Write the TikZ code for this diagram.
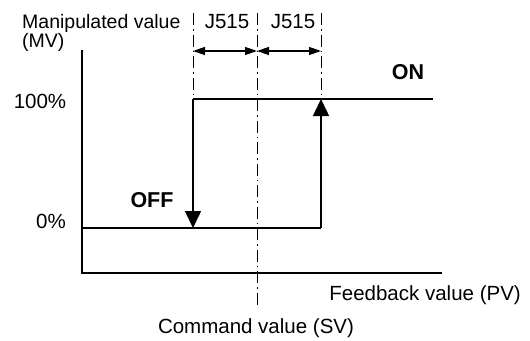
\documentclass[tikz,border=0pt]{standalone}
\usepackage{fontspec}
\setmainfont{Liberation Sans}
\usetikzlibrary{arrows.meta,positioning}

\begin{document}
\begin{tikzpicture}[
  x=1pt, y=-1pt,
  txt/.style={inner sep=0pt, font=\fontsize{20.5}{24}\selectfont},
  boldtxt/.style={inner sep=0pt, font=\fontsize{21.5}{24}\selectfont\bfseries},
  axis/.style={line width=1.3pt},
  curve/.style={line width=1.5pt},
  arrow/.style={line width=1.5pt, -{Triangle[length=17pt, width=16pt]}},
  dimarrow/.style={line width=1.3pt, {Triangle[length=12pt, width=8pt]}-{Triangle[length=12pt, width=8pt]}},
  guide/.style={line width=0.8pt, dash pattern=on 12pt off 4pt on 1.5pt off 4pt}
]
\useasboundingbox (0,0) rectangle (530,340);

% axes
\coordinate (origin) at (82,273);
\coordinate (ytop) at (82,50);
\coordinate (xend) at (442,273);
\draw[axis] (ytop) -- (origin) -- (xend);

% switching points
\coordinate (offtop) at (193,99);
\coordinate (offbot) at (193,228);
\coordinate (ontop) at (321,99);
\coordinate (onbot) at (321,228);
\coordinate (lowstart) at (82,228);
\coordinate (highend) at (433,99);

% guide lines
\coordinate (svtop) at (257,13);
\coordinate (svbot) at (257,305);
\coordinate (offguide) at (193,13);
\coordinate (onguide) at (321,13);
\draw[guide] (svtop) -- (svbot);
\draw[guide] (offguide) -- (offtop);
\draw[guide] (onguide) -- (ontop);

% output characteristic
\draw[curve] (lowstart) -- (onbot);
\draw[curve] (offtop) -- (highend);
\draw[arrow] (offtop) -- (offbot);
\draw[arrow] (onbot) -- (ontop);

% hysteresis widths
\coordinate (dimleft) at (193,51);
\coordinate (dimmid) at (257,51);
\coordinate (dimright) at (321,51);
\draw[dimarrow] (dimleft) -- (dimmid);
\draw[dimarrow] (dimmid) -- (dimright);
\node[txt] (widthleft) at (227,22) {J515};
\node[txt] (widthright) at (293,22) {J515};

% labels
\node[txt, anchor=north west, align=left, font=\fontsize{19.5}{18}\selectfont] (mvname) at (22,14) {Manipulated value\\(MV)};
\node[txt] (full) at (40,101) {100\%};
\node[txt] (zero) at (51,221) {0\%};
\node[boldtxt] (onname) at (408,72) {ON};
\node[boldtxt] (offname) at (152,200) {OFF};
\node[txt, anchor=east] (pvname) at (521,295) {Feedback value (PV)};
\node[txt] (svname) at (256,328) {Command value (SV)};
\end{tikzpicture}
\end{document}
